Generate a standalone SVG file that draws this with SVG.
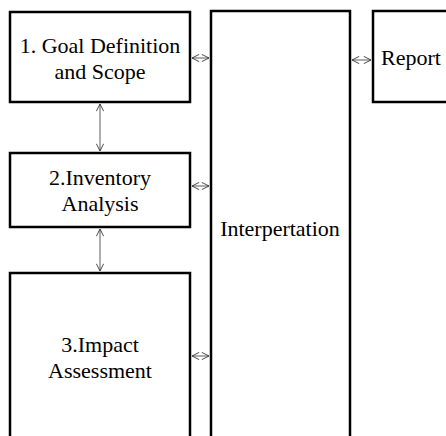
<svg xmlns="http://www.w3.org/2000/svg" width="446" height="436" viewBox="0 0 446 436">
<defs>
<style>
.box{fill:#fff;stroke:#000;stroke-width:2.5}
.t{font-family:"Liberation Serif","Times New Roman",serif;font-size:22px;fill:#000;text-anchor:middle}
.c{stroke:#999;stroke-width:1.6;fill:none;marker-start:url(#ah);marker-end:url(#ah)}
</style>
<marker id="ah" viewBox="0 0 10 10" refX="10" refY="5" markerWidth="8" markerHeight="9" markerUnits="userSpaceOnUse" orient="auto-start-reverse">
<path d="M1,0.5 L10,5 L1,9.5" fill="none" stroke="#333" stroke-width="1.1"/>
</marker>
</defs>
<rect width="446" height="436" fill="#fff"/>
<g id="goal">
<rect class="box" x="10" y="12" width="180" height="90"/>
<text class="t" x="100" y="53">1. Goal Definition</text>
<text class="t" x="100" y="79">and Scope</text>
</g>
<g id="inventory">
<rect class="box" x="10" y="153" width="180" height="74"/>
<text class="t" x="100" y="185">2.Inventory</text>
<text class="t" x="100" y="211">Analysis</text>
</g>
<g id="impact">
<rect class="box" x="10" y="273" width="180" height="170"/>
<text class="t" x="100" y="352">3.Impact</text>
<text class="t" x="100" y="378">Assessment</text>
</g>
<g id="interpretation">
<rect class="box" x="211" y="11" width="139" height="432"/>
<text class="t" x="280" y="236">Interpertation</text>
</g>
<g id="report">
<rect class="box" x="373" y="11" width="80" height="91"/>
<text class="t" x="411" y="65">Report</text>
</g>
<g id="connectors">
<line class="c" x1="100" y1="104" x2="100" y2="151"/>
<line class="c" x1="100" y1="229" x2="100" y2="271"/>
<line class="c" x1="192" y1="58" x2="209" y2="58"/>
<line class="c" x1="192" y1="186" x2="209" y2="186"/>
<line class="c" x1="192" y1="356" x2="209" y2="356"/>
<line class="c" x1="352" y1="60" x2="371" y2="60"/>
</g>
</svg>
